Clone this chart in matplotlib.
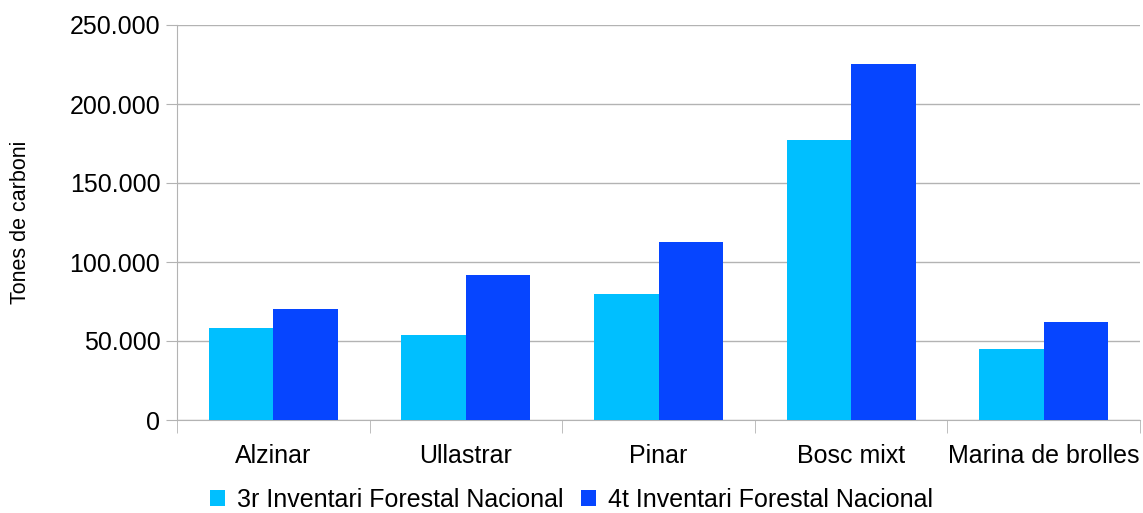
import matplotlib.pyplot as plt
import numpy as np

categories = ['Alzinar', 'Ullastrar', 'Pinar', 'Bosc mixt', 'Marina de brolles']
ifn3 = [58200, 53800, 79700, 177200, 44900]
ifn4 = [70300, 91800, 112700, 225300, 62000]
series_names = ['3r Inventari Forestal Nacional', '4t Inventari Forestal Nacional']
yticks = [0, 50000, 100000, 150000, 200000, 250000]

plt.rcParams['font.family'] = ['Liberation Sans', 'DejaVu Sans']

fig = plt.figure(figsize=(11.43, 5.13), dpi=100)
ax = fig.add_axes([177 / 1143, 1 - 420 / 513, (1140 - 177) / 1143, (420 - 25) / 513])

x = np.arange(len(categories))
w = 0.335
ax.bar(x - w / 2, ifn3, width=w, color='#00bfff', label=series_names[0], zorder=3)
ax.bar(x + w / 2, ifn4, width=w, color='#0645ff', label=series_names[1], zorder=3)

ax.set_xlim(-0.5, len(categories) - 0.5)
ax.set_ylim(0, 250000)
ax.set_yticks(yticks)
ax.set_yticklabels([f'{v:,}'.replace(',', '.') for v in yticks], fontsize=18)
ax.set_xticks(x)
ax.set_xticklabels(categories, fontsize=18)
ax.tick_params(axis='x', length=0, pad=17.5)
ax.set_xticks(np.arange(len(categories) + 1) - 0.5, minor=True)
ax.tick_params(axis='x', which='minor', length=9, color='#b3b3b3')
ax.tick_params(axis='y', length=8, color='#b3b3b3', pad=4)

ax.grid(axis='y', color='#b3b3b3', linewidth=1, zorder=0)
for s in ['top', 'right']:
    ax.spines[s].set_visible(False)
for s in ['left', 'bottom']:
    ax.spines[s].set_color('#b3b3b3')

ax.set_ylabel('Tones de carboni', fontsize=15.5, labelpad=28)

fig.legend(loc='lower center', bbox_to_anchor=(0.5, -0.042), ncol=2, frameon=False,
           fontsize=18, handlelength=0.6, handleheight=0.6, handletextpad=0.5,
           columnspacing=0.7)

fig.savefig('out.png', dpi=100)
